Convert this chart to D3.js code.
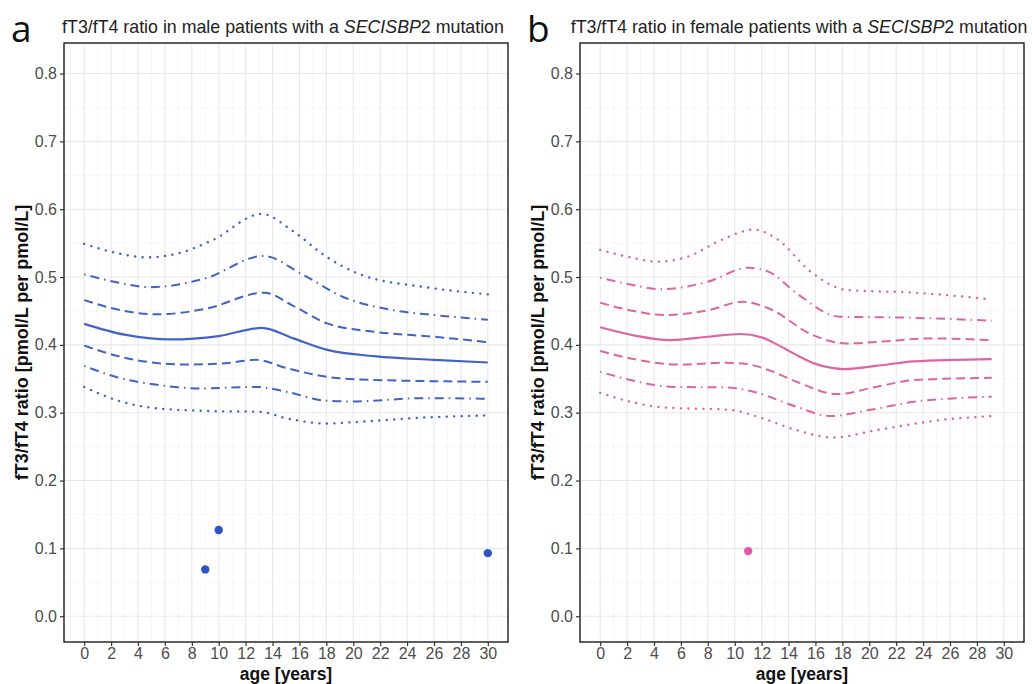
<!DOCTYPE html>
<html><head><meta charset="utf-8">
<script src="https://cdn.jsdelivr.net/npm/d3@7"></script>
<style>body{margin:0;background:#fff}svg{display:block}</style>
</head><body><svg id="c" width="1032" height="684"></svg>
<script>
const xTicks = [0,2,4,6,8,10,12,14,16,18,20,22,24,26,28,30];
const yTicks = [0,0.1,0.2,0.3,0.4,0.5,0.6,0.7,0.8];
const centiles = ["P3","P10","P25","P50","P75","P90","P97"];

// male: [age, ratio]
const maleP3  = [[0,.338],[2.5,.318],[5.6,.306],[9.4,.3024],[13.1,.3013],[15,.292],[18,.284],[20.5,.2866],[25.4,.293],[30,.296]];
const maleP10 = [[0,.369],[2.5,.352],[5.6,.3407],[8.6,.3358],[12.8,.338],[15,.331],[18,.3176],[19.7,.3166],[25.4,.3215],[30,.3205]];
const maleP25 = [[0,.399],[3,.381],[7.6,.371],[10.5,.373],[12.8,.378],[15,.366],[18,.353],[20.5,.349],[30,.3456]];
const maleP50 = [[0,.431],[3,.415],[6.4,.408],[10,.413],[13.2,.425],[15.5,.410],[18,.393],[21.7,.383],[26,.378],[30,.374]];
const maleP75 = [[0,.466],[2.5,.452],[5.4,.445],[9,.453],[13.4,.477],[15.5,.458],[18,.432],[21.7,.419],[26,.412],[30,.404]];
const maleP90 = [[0,.504],[2.5,.492],[4.9,.485],[9,.498],[13.3,.531],[16.3,.503],[19.2,.471],[23,.451],[26,.444],[30,.437]];
const maleP97 = [[0,.549],[2.5,.535],[4.65,.529],[7,.535],[9.5,.554],[13.2,.593],[15.5,.568],[18,.530],[20.5,.504],[25.4,.485],[30,.4745]];
const maleObs = [[9,0.069],[10,0.127],[30,0.093]];

// female: [age, ratio]
const femaleP3  = [[0,.3294],[2.5,.315],[4.7,.3078],[9.7,.304],[12.1,.2915],[14.6,.2743],[17.3,.2635],[20.8,.2753],[25.7,.29],[29.1,.295]];
const femaleP10 = [[0,.3604],[2.5,.347],[5.45,.338],[9.2,.3373],[11.4,.331],[14.6,.3087],[17.1,.295],[20,.304],[23.3,.316],[29.1,.3235]];
const femaleP25 = [[0,.391],[2.5,.379],[5.9,.371],[9.2,.3737],[10.9,.3717],[12.5,.363],[14.6,.3456],[17.6,.3274],[20.5,.338],[23.3,.348],[29.1,.3515]];
const femaleP50 = [[0,.426],[2.5,.414],[5.2,.407],[8,.412],[10.4,.416],[12,.411],[13.2,.400],[14.5,.386],[16,.372],[17.2,.366],[18.1,.3643],[20.5,.369],[23.3,.3757],[29.1,.379]];
const femaleP75 = [[0,.462],[2.5,.450],[4.7,.444],[8,.451],[10.6,.4636],[12.5,.454],[15.8,.4145],[18.3,.402],[21,.405],[24.5,.4095],[29.1,.407]];
const femaleP90 = [[0,.499],[2.5,.488],[4.45,.482],[8,.493],[11,.5137],[12.5,.508],[14.6,.476],[17.8,.4415],[22,.4405],[29.1,.4356]];
const femaleP97 = [[0,.540],[2.5,.528],[4.2,.5226],[6.5,.530],[9,.5546],[11.4,.570],[13,.558],[15.8,.5054],[18.3,.481],[23.3,.477],[29.1,.467]];
const femaleObs = [[11,0.096]];

const svg = d3.select("#c");
const dashFor = {P3:"0.1,7.4",P97:"0.1,7.4",P10:"1.5,5,9,5",P90:"1.5,5,9,5",P25:"9,5",P75:"9,5",P50:null};
const FONT = "Liberation Sans, Arial, sans-serif";

function panel(ox, letter, sexWord, series, obs, lineColor, ptColor){
  const left = 64, right = 508, top = 43, bottom = 642;
  const x = d3.scaleLinear().domain([-1.5,31.5]).range([ox+left, ox+right]);
  const y = d3.scaleLinear().domain([-0.038,0.845]).range([bottom, top]);
  const g = svg.append("g");
  const xMinor = d3.range(-1,32,2), yMinor = d3.range(0.05,0.8,0.1);
  g.selectAll(".xm").data(xMinor).join("line").attr("x1",d=>x(d)).attr("x2",d=>x(d)).attr("y1",top).attr("y2",bottom).attr("stroke","#f2f2f2").attr("stroke-width",0.6);
  g.selectAll(".ym").data(yMinor).join("line").attr("y1",d=>y(d)).attr("y2",d=>y(d)).attr("x1",ox+left).attr("x2",ox+right).attr("stroke","#f2f2f2").attr("stroke-width",0.6);
  g.selectAll(".xM").data(xTicks).join("line").attr("x1",d=>x(d)).attr("x2",d=>x(d)).attr("y1",top).attr("y2",bottom).attr("stroke","#e8e8e8").attr("stroke-width",1.1);
  g.selectAll(".yM").data(yTicks).join("line").attr("y1",d=>y(d)).attr("y2",d=>y(d)).attr("x1",ox+left).attr("x2",ox+right).attr("stroke","#e8e8e8").attr("stroke-width",1.1);

  const line = d3.line().x(d=>x(d[0])).y(d=>y(d[1])).curve(d3.curveMonotoneX);
  centiles.forEach((c,i)=>{
    const p = g.append("path").datum(series[i]).attr("d",line).attr("fill","none")
      .attr("stroke",lineColor).attr("stroke-width", c==="P50"?2.2:(c==="P3"||c==="P97"?2.4:2));
    if(dashFor[c]) p.attr("stroke-dasharray",dashFor[c]);
    if(c==="P3"||c==="P97") p.attr("stroke-linecap","round");
  });
  g.selectAll(".pt").data(obs).join("circle").attr("cx",d=>x(d[0])).attr("cy",d=>y(d[1])).attr("r",4.2).attr("fill",ptColor);

  g.append("rect").attr("x",ox+left).attr("y",top).attr("width",right-left).attr("height",bottom-top).attr("fill","none").attr("stroke","#1a1a1a").attr("stroke-width",1.4);

  const ya = g.append("g").attr("transform",`translate(${ox+left},0)`).call(d3.axisLeft(y).tickValues(yTicks).tickFormat(d3.format(".1f")).tickSize(4).tickPadding(3));
  const xa = g.append("g").attr("transform",`translate(0,${bottom})`).call(d3.axisBottom(x).tickValues(xTicks).tickSize(4).tickPadding(2));
  [ya,xa].forEach(a=>{
    a.select(".domain").remove();
    a.selectAll(".tick line").attr("stroke","#333").attr("stroke-width",1.2);
    a.selectAll("text").attr("fill","#4d4d4d").style("font-family",FONT).style("font-size","16px");
  });

  g.append("text").attr("x",(x.range()[0]+x.range()[1])/2).attr("y",680).attr("text-anchor","middle")
    .style("font-family",FONT).style("font-size","17.5px").style("font-weight","bold").attr("fill","#111").text("age [years]");
  g.append("text").attr("transform",`translate(${ox+28},${(top+bottom)/2}) rotate(-90)`).attr("text-anchor","middle")
    .style("font-family",FONT).style("font-size","18px").style("font-weight","bold").attr("fill","#111").text("fT3/fT4 ratio [pmol/L per pmol/L]");

  const t = g.append("text").attr("x",ox+283).attr("y",33).attr("text-anchor","middle")
    .style("font-family",FONT).style("font-size","17.8px").attr("fill","#222");
  t.append("tspan").text(`fT3/fT4 ratio in ${sexWord} patients with a `);
  t.append("tspan").style("font-style","italic").text("SECISBP");
  t.append("tspan").text("2 mutation");

  g.append("text").attr("x",ox+11).attr("y",42).style("font-family","Open Sans, Liberation Sans, sans-serif").style("font-size","37px").attr("fill","#111").text(letter);
}

panel(0,"a","male",[maleP3,maleP10,maleP25,maleP50,maleP75,maleP90,maleP97],maleObs,"#4163c6","#2f55c4");
panel(516,"b","female",[femaleP3,femaleP10,femaleP25,femaleP50,femaleP75,femaleP90,femaleP97],femaleObs,"#dc66a2","#e457ab");
</script></body></html>
